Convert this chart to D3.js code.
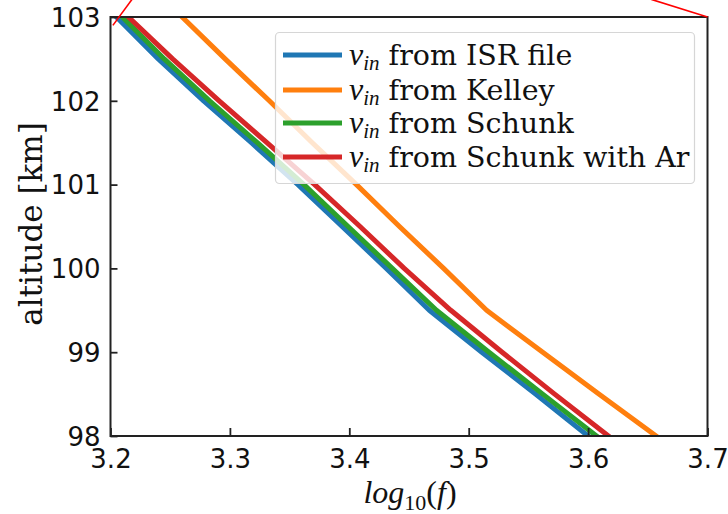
<!DOCTYPE html>
<html><head><meta charset="utf-8">
<script src="https://cdn.jsdelivr.net/npm/d3@7/dist/d3.min.js"></script>
<style>body{margin:0;background:#fff}</style>
</head><body>
<svg id="c" width="728" height="514"></svg>
<script>
// ---- data ----
const altitudes = [103, 102.5, 102, 101.5, 101, 100.5, 100, 99.5, 99, 98.5, 98];
const isrFile   = [3.205, 3.240, 3.278, 3.318, 3.357, 3.394, 3.431, 3.467, 3.511, 3.556, 3.600];
const kelley    = [3.260, 3.296, 3.333, 3.369, 3.406, 3.442, 3.479, 3.515, 3.562, 3.609, 3.657];
const schunk    = [3.210, 3.245, 3.283, 3.323, 3.362, 3.399, 3.436, 3.473, 3.517, 3.562, 3.607];
const schunkAr  = [3.215, 3.252, 3.291, 3.331, 3.371, 3.409, 3.446, 3.485, 3.528, 3.572, 3.617];
const seriesNames = ["from ISR file", "from Kelley", "from Schunk", "from Schunk with Ar"];
const seriesColors = ["#1f77b4", "#ff7f0e", "#2ca02c", "#d62728"];
const xTicks = [3.2, 3.3, 3.4, 3.5, 3.6, 3.7];
const yTicks = [98, 99, 100, 101, 102, 103];
// inset connector lines (data units, extending beyond the axes)
const connectors = [
  [[3.202, 102.9], [3.218, 103.21]],
  [[3.653, 103.21], [3.7, 103.0]]
];

const svg = d3.select("#c");
const L = 110.5, R = 707.5, T = 17, B = 436;
const x = d3.scaleLinear().domain([3.2, 3.7]).range([L, R]);
const y = d3.scaleLinear().domain([98, 103]).range([B, T]);

svg.append("defs").append("clipPath").attr("id", "clip")
  .append("rect").attr("x", L).attr("y", T).attr("width", R - L).attr("height", B - T);

const all = [isrFile, kelley, schunk, schunkAr];
const line = d3.line().x(d => x(d[0])).y(d => y(d[1]));
const g = svg.append("g").attr("clip-path", "url(#clip)");
all.forEach((s, i) => {
  g.append("path")
    .datum(s.map((v, j) => [v, altitudes[j]]))
    .attr("d", line)
    .attr("fill", "none")
    .attr("stroke", seriesColors[i])
    .attr("stroke-width", 5)
    .attr("stroke-linecap", "square")
    .attr("stroke-linejoin", "round");
});

// axes (ticks inward)
const xAxis = d3.axisBottom(x).tickValues(xTicks).tickFormat(d3.format(".1f")).tickSizeInner(-8).tickSizeOuter(0).tickPadding(12);
const yAxis = d3.axisLeft(y).tickValues(yTicks).tickFormat(d3.format("d")).tickSizeInner(-7).tickSizeOuter(0).tickPadding(12);
const gx = svg.append("g").attr("transform", `translate(0,${B})`).call(xAxis);
const gy = svg.append("g").attr("transform", `translate(${L},0)`).call(yAxis);
[gx, gy].forEach(a => {
  a.select(".domain").remove();
  a.selectAll("line").attr("stroke", "#222").attr("stroke-width", 1.8);
  a.selectAll("text").attr("font-family", "DejaVu Sans").attr("font-size", 26).attr("fill", "#111");
});
gx.selectAll("text").attr("dy", "0.75em").attr("y", 12);
gy.selectAll("text").attr("dy", "0.36em").attr("x", -10);

// frame
svg.append("rect").attr("x", L).attr("y", T).attr("width", R - L).attr("height", B - T)
  .attr("fill", "none").attr("stroke", "#222").attr("stroke-width", 2);

// connectors
connectors.forEach(c => {
  svg.append("line")
    .attr("x1", x(c[0][0])).attr("y1", y(c[0][1]))
    .attr("x2", x(c[1][0])).attr("y2", y(c[1][1]))
    .attr("stroke", "red").attr("stroke-width", 1.6);
});

// legend
const lg = svg.append("g");
lg.append("rect").attr("x", 275.5).attr("y", 32.5).attr("width", 419).attr("height", 151)
  .attr("rx", 4).attr("fill", "white").attr("fill-opacity", 0.8)
  .attr("stroke", "#d6d6d6").attr("stroke-width", 1.2);
const rowY = [55, 90, 123, 157];
seriesNames.forEach((n, i) => {
  lg.append("line").attr("x1", 283).attr("x2", 342).attr("y1", rowY[i]).attr("y2", rowY[i])
    .attr("stroke", seriesColors[i]).attr("stroke-width", 5);
  const t = lg.append("text").attr("x", 349).attr("y", rowY[i] + 10)
    .attr("font-family", "DejaVu Serif").attr("font-size", 28.5).attr("fill", "#111");
  t.append("tspan").attr("font-family", "Liberation Serif").attr("font-style", "italic").attr("font-size", 32).text("\u03BD");
  t.append("tspan").attr("font-family", "Liberation Serif").attr("font-style", "italic").attr("font-size", 21).attr("dy", 5).text("in");
  t.append("tspan").attr("dy", -5).text("\u00A0" + n);
});

// axis labels
const xl = svg.append("text").attr("x", 410).attr("y", 503).attr("text-anchor", "middle")
  .attr("font-family", "Liberation Serif").attr("font-size", 32).attr("fill", "#111");
xl.append("tspan").attr("font-style", "italic").text("log");
xl.append("tspan").attr("font-size", 22).attr("dy", 7).text("10");
xl.append("tspan").attr("dy", -7).text("(");
xl.append("tspan").attr("font-style", "italic").text("f");
xl.append("tspan").text(")");

svg.append("text").attr("transform", "translate(42,224) rotate(-90)").attr("text-anchor", "middle")
  .attr("font-family", "DejaVu Serif").attr("font-size", 31).attr("fill", "#111")
  .text("altitude [km]");
</script>
</body></html>
